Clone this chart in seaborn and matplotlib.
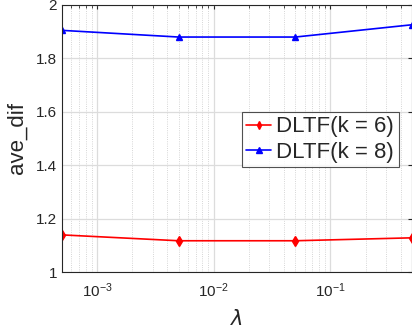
import pandas as pd
import matplotlib
matplotlib.use("Agg")
import matplotlib.pyplot as plt
import seaborn as sns
from matplotlib.ticker import FixedLocator, FixedFormatter, LogLocator, NullFormatter

sns.set_style("white")
plt.rcParams['font.family'] = ['Liberation Sans', 'DejaVu Sans']

# data
lambdas = [5e-4, 5e-3, 5e-2, 5e-1]
k6 = [1.139, 1.117, 1.117, 1.128]
k8 = [1.905, 1.880, 1.880, 1.926]
labels = ['DLTF(k = 6)', 'DLTF(k = 8)']

df = pd.DataFrame({
    'lambda': lambdas * 2,
    'ave_dif': k6 + k8,
    'series': [labels[0]] * 4 + [labels[1]] * 4,
})

fig = plt.figure(figsize=(4.12, 3.35), dpi=100)
ax = fig.add_axes([62 / 412, 1 - 272 / 335, 350 / 412, 267 / 335])

sns.lineplot(data=df, x='lambda', y='ave_dif', hue='series', style='series',
             palette=['#ff0000', '#0000ff'], markers=['d', '^'], dashes=False,
             markersize=5, linewidth=1.2, markeredgewidth=1.0, ax=ax)
for ln in ax.lines:
    ln.set_markeredgecolor(ln.get_color())

ax.set_xscale('log')
ax.set_xlim(5e-4, 0.5)
ax.set_ylim(1, 2)
ax.yaxis.set_major_locator(FixedLocator([1, 1.2, 1.4, 1.6, 1.8, 2]))
ax.yaxis.set_major_formatter(FixedFormatter(['1', '1.2', '1.4', '1.6', '1.8', '2']))
ax.xaxis.set_major_locator(LogLocator(base=10, numticks=10))
ax.xaxis.set_minor_locator(LogLocator(base=10, subs=range(2, 10), numticks=20))
ax.xaxis.set_minor_formatter(NullFormatter())

ax.grid(True, which='major', color='#dcdcdc', linewidth=0.9, linestyle='-')
ax.grid(True, which='minor', axis='x', color='#c8c8c8', linewidth=0.6, linestyle=':')
ax.tick_params(direction='in', top=True, right=True, which='both', labelsize=11,
               colors='#262626', length=3)
ax.tick_params(axis='x', which='major', pad=7)
ax.tick_params(which='minor', length=1.8)
for s in ['left', 'bottom', 'top', 'right']:
    ax.spines[s].set_color('#262626')

ax.set_xlabel(r'$\lambda$', fontsize=15, color='#262626', labelpad=6)
ax.set_ylabel('ave_dif', fontsize=16, color='#262626', labelpad=6)

leg = ax.legend(loc='upper left', bbox_to_anchor=(180 / 350, (272 - 112) / 267),
                fontsize=16, frameon=True, fancybox=False, edgecolor='#262626',
                handlelength=1.1, handletextpad=0.25, borderpad=0.2, labelspacing=0.2,
                borderaxespad=0)
leg.get_frame().set_linewidth(0.8)
for h in leg.legend_handles:
    h.set_markeredgecolor(h.get_color())
    h.set_markersize(4)

fig.savefig('out.png', dpi=100)
